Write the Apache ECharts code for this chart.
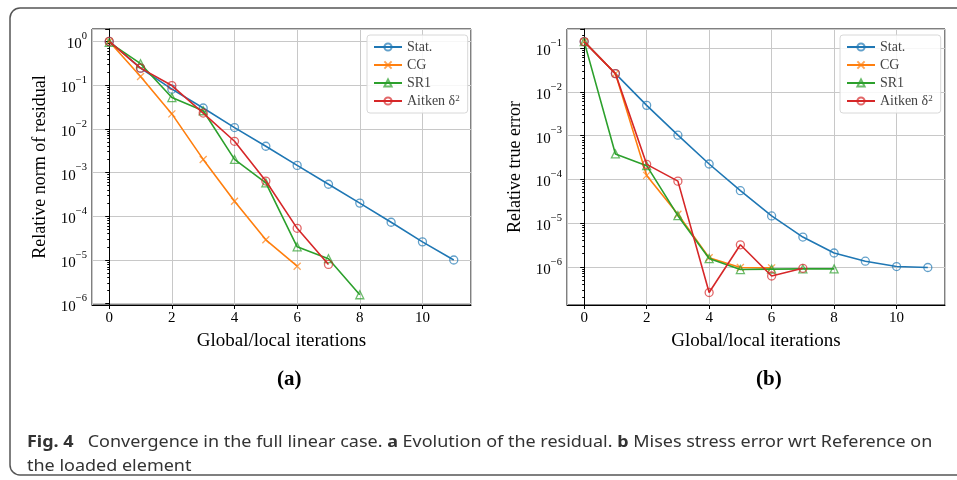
<!DOCTYPE html>
<html>
<head>
<meta charset="utf-8">
<script src="https://cdn.jsdelivr.net/npm/echarts@6/dist/echarts.min.js"></script>
<style>
  html, body { margin: 0; padding: 0; background: #fff; }
  #main { width: 957px; height: 480px; }
</style>
</head>
<body>
<div id="main"></div>
<script>
// iterations 0..11
const iters = [0, 1, 2, 3, 4, 5, 6, 7, 8, 9, 10, 11];
const seriesNames = ['Stat.', 'CG', 'SR1', 'Aitken δ2'];

// (a) relative norm of residual
const resStat = [1.0, 0.245, 0.081, 0.030, 0.0107, 0.0040, 0.00146, 5.4e-4, 2.0e-4, 7.3e-5, 2.6e-5, 1.0e-5];
const resCG = [1.0, 0.158, 0.022, 0.002, 2.2e-4, 2.9e-5, 7.2e-6];
const resSR1 = [0.95, 0.31, 0.052, 0.026, 0.002, 5.8e-4, 2.0e-5, 1.07e-5, 1.6e-6];
const resAitken = [1.0, 0.245, 0.098, 0.023, 0.0052, 6.4e-4, 5.3e-5, 7.9e-6];

// (b) relative true error
const errStat = [0.14, 0.026, 0.0049, 0.00102, 2.24e-4, 5.5e-5, 1.46e-5, 4.8e-6, 2.08e-6, 1.35e-6, 1.02e-6, 9.7e-7];
const errCG = [0.14, 0.026, 1.23e-4, 1.6e-5, 1.62e-6, 9.7e-7, 9.5e-7];
const errSR1 = [0.14, 3.8e-4, 2.05e-4, 1.48e-5, 1.55e-6, 8.7e-7, 8.9e-7, 9.0e-7, 9.0e-7];
const errAitken = [0.14, 0.026, 2.2e-4, 9.1e-5, 2.6e-7, 3.2e-6, 6.2e-7, 9.3e-7];

const colors = ['#1f77b4', '#ff7f0e', '#2ca02c', '#d62728'];
const serif = 'Liberation Serif';
const xMark = 'path://M0,0L10,10M10,0L0,10';

function pairs(vals) {
  return vals.map((v, i) => [iters[i], v]);
}

function supLabel(v) {
  const e = Math.round(Math.log10(v));
  const txt = e < 0 ? '−' + (-e) : String(e);
  return '{b|10}{s|' + txt + '}';
}

const tickRich = {
  b: { fontSize: 15, fontFamily: serif, color: '#000', padding: [6, 0, 0, 0], verticalAlign: 'bottom' },
  s: { fontSize: 10.5, fontFamily: serif, color: '#000', verticalAlign: 'top' },
};

function xAxisOpt(gridIndex) {
  return {
    type: 'value',
    gridIndex,
    min: -0.55,
    max: 11.55,
    splitNumber: 6,
    name: 'Global/local iterations',
    nameLocation: 'middle',
    nameGap: 27,
    nameTextStyle: { fontFamily: serif, fontSize: 19, color: '#000' },
    axisLine: { show: true, lineStyle: { color: '#000', width: 1 } },
    axisTick: { show: true, length: 4, lineStyle: { color: '#000' } },
    axisLabel: {
      showMinLabel: false, showMaxLabel: false,
      fontFamily: serif, fontSize: 15, color: '#000', margin: 6,
    },
    splitLine: { show: true, lineStyle: { color: '#c8c8c8', width: 1 } },
  };
}

function yAxisOpt(gridIndex, min, max, name) {
  return {
    type: 'log',
    gridIndex,
    min,
    max,
    splitNumber: 6,
    name,
    nameLocation: 'middle',
    nameGap: 43,
    nameTextStyle: { fontFamily: serif, fontSize: 18, color: '#000' },
    axisLine: { show: true, lineStyle: { color: '#000', width: 1 } },
    axisTick: { show: true, length: 4, lineStyle: { color: '#000' } },
    minorTick: { show: true, splitNumber: 9, length: 2, lineStyle: { color: '#000' } },
    axisLabel: {
      showMinLabel: false, showMaxLabel: false,
      margin: 5,
      formatter: supLabel,
      rich: tickRich,
    },
    splitLine: { show: true, lineStyle: { color: '#c8c8c8', width: 1 } },
  };
}

function makeSeries(dataSets, axisIndex) {
  const symbols = ['circle', xMark, 'triangle', 'circle'];
  return dataSets.map((d, i) => ({
    name: seriesNames[i],
    type: 'line',
    xAxisIndex: axisIndex,
    yAxisIndex: axisIndex,
    data: pairs(d),
    symbol: symbols[i],
    symbolSize: i === 1 ? 7 : 8,
    showAllSymbol: true,
    lineStyle: { color: colors[i], width: 1.6 },
    itemStyle: {
      color: 'rgba(255,255,255,0)',
      borderColor: colors[i],
      borderWidth: 1.3,
      opacity: 0.7,
    },
    emphasis: { disabled: true },
    z: 3 + i,
  }));
}

function legendOpt(left) {
  return {
    left,
    top: 35,
    orient: 'vertical',
    itemWidth: 28,
    itemHeight: 9,
    itemGap: 4,
    padding: [5, 8, 5, 6],
    backgroundColor: 'rgba(255,255,255,0.85)',
    borderColor: '#d8d8d8',
    borderWidth: 1,
    borderRadius: 3,
    data: seriesNames,
    formatter(name) {
      if (name === 'Aitken δ2') return 'Aitken δ{s|2}';
      return name;
    },
    textStyle: {
      fontFamily: serif, fontSize: 14, color: '#444',
      rich: { s: { fontFamily: serif, fontSize: 9, color: '#444', verticalAlign: 'top' } },
    },
  };
}

const chart = echarts.init(document.getElementById('main'), null, { renderer: 'canvas' });

const captionFont = 'Noto Sans';
const captionText =
  '{fb|Fig. 4}   Convergence in the full linear case. {ab|a} Evolution of the residual. {ab|b} Mises stress error wrt Reference on\nthe loaded element';

const option = {
  animation: false,
  backgroundColor: '#fff',
  color: colors,
  grid: [
    { left: 92, top: 29, width: 379, height: 276, show: true, borderColor: '#000', borderWidth: 1, containLabel: false },
    { left: 567, top: 29, width: 378, height: 276, show: true, borderColor: '#000', borderWidth: 1, containLabel: false },
  ],
  xAxis: [xAxisOpt(0), xAxisOpt(1)],
  yAxis: [
    yAxisOpt(0, Math.pow(10, -6.03), Math.pow(10, 0.285), 'Relative norm of residual'),
    yAxisOpt(1, Math.pow(10, -6.87), Math.pow(10, -0.566), 'Relative true error'),
  ],
  legend: [legendOpt(367), legendOpt(840)],
  series: [
    ...makeSeries([resStat, resCG, resSR1, resAitken], 0),
    ...makeSeries([errStat, errCG, errSR1, errAitken], 1),
  ],
  graphic: [
    {
      type: 'rect',
      shape: { x: 10, y: 8, width: 1000, height: 467, r: 10 },
      style: { fill: 'none', stroke: '#555', lineWidth: 1.5 },
      silent: true,
    },
    {
      type: 'text', left: 277, top: 369,
      style: { text: '(a)', fontFamily: serif, fontWeight: 'bold', fontSize: 21, fill: '#000' },
    },
    {
      type: 'text', left: 756, top: 369,
      style: { text: '(b)', fontFamily: serif, fontWeight: 'bold', fontSize: 21, fill: '#000' },
    },
    {
      type: 'text', x: 27, y: 430, scaleX: 1.09,
      style: {
        text: captionText,
        fontFamily: captionFont,
        fontSize: 16.5,
        lineHeight: 24,
        fill: '#333',
        rich: {
          fb: { fontFamily: captionFont, fontWeight: 'bold', fontSize: 16.5, fill: '#333', lineHeight: 24 },
          ab: { fontFamily: captionFont, fontWeight: 'bold', fontSize: 16.5, fill: '#333', lineHeight: 24 },
        },
      },
    },
  ],
};

chart.setOption(option);
</script>
</body>
</html>
